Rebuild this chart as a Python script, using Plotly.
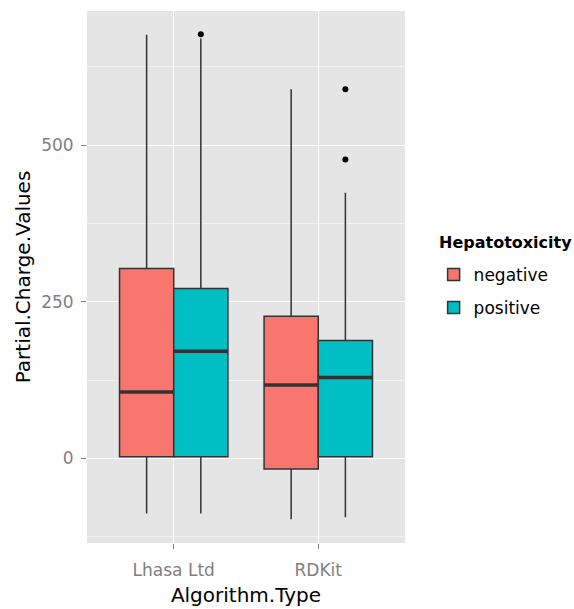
import plotly.graph_objects as go

categories = ["Lhasa Ltd", "RDKit"]
groups = ["negative", "positive"]
colors = {"negative": "#F8766D", "positive": "#00BFC4"}

# per-category stats for each group
lower = {"negative": [-88, -97], "positive": [-88, -94]}
q1 = {"negative": [2.6, -17], "positive": [2.6, 2.6]}
median = {"negative": [106, 117], "positive": [171, 129]}
q3 = {"negative": [303, 227], "positive": [271, 188]}
upper = {"negative": [676, 589], "positive": [670, 424]}
outliers = {"negative": [[], []], "positive": [[677], [589, 477]]}

dodge = 0.75
bw = dodge / 2
offsets = {"negative": -bw / 2, "positive": bw / 2}

FONT = "DejaVu Sans, Verdana, sans-serif"

fig = go.Figure()
for g in groups:
    xs = [i + offsets[g] for i in range(len(categories))]
    fig.add_trace(go.Box(
        x=xs, q1=q1[g], median=median[g], q3=q3[g],
        lowerfence=lower[g], upperfence=upper[g],
        name=g, width=bw, fillcolor=colors[g],
        line=dict(color="#333333", width=1.5),
        whiskerwidth=0, boxpoints=False, showlegend=True,
        legendgroup=g,
    ))
    # thicker medians like ggplot
    for i, x in enumerate(xs):
        fig.add_trace(go.Scatter(
            x=[x - bw / 2, x + bw / 2], y=[median[g][i]] * 2,
            mode="lines", line=dict(color="#333333", width=3.5),
            showlegend=False, hoverinfo="skip", legendgroup=g))
        if outliers[g][i]:
            fig.add_trace(go.Scatter(
                x=[x] * len(outliers[g][i]), y=outliers[g][i],
                mode="markers", marker=dict(color="black", size=6),
                showlegend=False, hoverinfo="skip", legendgroup=g))

fig.add_annotation(
    text="<b>Hepatotoxicity</b>", xref="paper", yref="paper",
    x=1.1006, y=0.564, xanchor="left", yanchor="middle", showarrow=False,
    font=dict(size=16, color="black", family=FONT),
)

fig.update_layout(
    width=574, height=609,
    margin=dict(l=87, r=169, t=11, b=66),
    paper_bgcolor="white", plot_bgcolor="#E5E5E5",
    font=dict(family=FONT),
    legend=dict(
        font=dict(size=17, color="black", family=FONT),
        x=1.09, xanchor="left", y=0.473, yanchor="middle",
        bgcolor="rgba(0,0,0,0)", tracegroupgap=8,
    ),
)
fig.update_xaxes(
    range=[-0.6, 1.6], tickvals=[0, 1], ticktext=categories,
    showgrid=True, gridcolor="white", gridwidth=1.3,
    zeroline=False, ticks="outside", ticklen=5, tickcolor="#7F7F7F",
    tickfont=dict(size=17, color="#7F7F7F", family=FONT),
    ticklabelstandoff=7, automargin=False,
    title=dict(text="Algorithm.Type", font=dict(size=20, color="black", family=FONT), standoff=8),
)
fig.update_yaxes(
    range=[-135, 714], tickvals=[0, 250, 500],
    showgrid=True, gridcolor="white", gridwidth=1.3,
    minor=dict(showgrid=True, gridcolor="#F2F2F2", gridwidth=0.8, tickvals=[-125, 125, 375, 625]),
    zeroline=False, ticks="outside", ticklen=5, tickcolor="#7F7F7F",
    tickfont=dict(size=17, color="#7F7F7F", family=FONT),
    ticklabelstandoff=4, automargin=False,
    title=dict(text="Partial.Charge.Values", font=dict(size=20, color="black", family=FONT), standoff=5),
)

fig.write_html("out.html")
